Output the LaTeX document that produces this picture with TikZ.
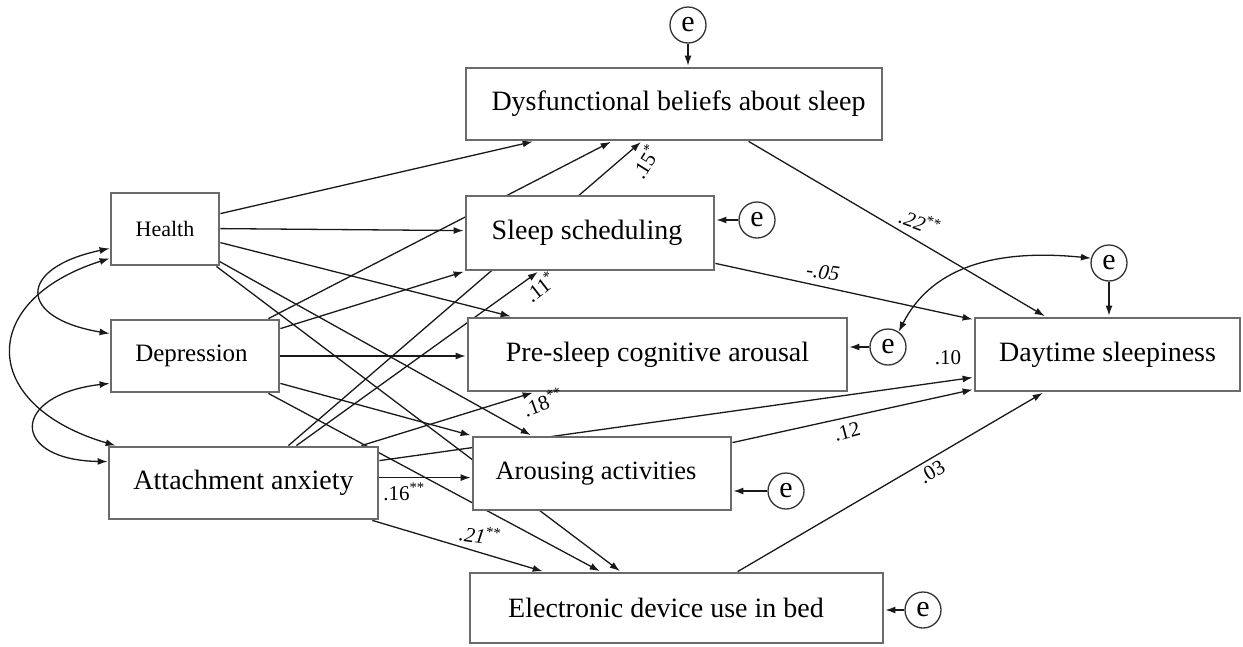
\documentclass[tikz,border=0pt]{standalone}
\usepackage{fontspec}
\setmainfont{Liberation Serif}
\usetikzlibrary{arrows.meta}
\pgfdeclarelayer{bg}
\pgfsetlayers{bg,main}
\begin{document}
\begin{tikzpicture}[x=1pt,y=-1pt,
  box/.style={draw=black!58, line width=2.8pt, fill=white, inner sep=0pt, font=\fontsize{28}{30}\selectfont},
  err/.style={circle, draw=black!80, line width=1.3pt, fill=white, minimum size=36pt, inner sep=0pt, font=\fontsize{30}{30}\selectfont},
  arr/.style={draw=black!90, line width=1.3pt, shorten >=1pt, -{Latex[length=10pt,width=7pt]}},
  cov/.style={draw=black!90, line width=1.3pt, {Latex[length=10pt,width=7pt]}-{Latex[length=10pt,width=7pt]}},
  coef/.style={font=\fontsize{21}{22}\selectfont, inner sep=0pt},
]
\useasboundingbox (0,0) rectangle (1243,646);

% boxes
\node[box, minimum width=108pt, minimum height=72pt, font=\fontsize{22}{24}\selectfont] (health) at (165,229) {Health};
\node[box, minimum width=168pt, minimum height=72pt, font=\fontsize{25}{27}\selectfont] (dep) at (195,356) {\hspace*{-7pt}Depression};
\node[box, minimum width=269pt, minimum height=72pt] (att) at (243.5,483) {Attachment anxiety};
\node[box, minimum width=416pt, minimum height=72pt] (dys) at (674,104) {\hspace*{9pt}Dysfunctional beliefs about sleep};
\node[box, minimum width=248pt, minimum height=74pt] (ss) at (590,233) {\hspace*{-6pt}Sleep scheduling};
\node[box, minimum width=379pt, minimum height=73pt] (pre) at (657.5,354.5) {Pre-sleep cognitive arousal};
\node[box, minimum width=258pt, minimum height=73pt, font=\fontsize{26.5}{28}\selectfont] (aro) at (602,473.5) {\hspace*{-12pt}Arousing activities};
\node[box, minimum width=413pt, minimum height=70pt] (ele) at (676.5,608) {\hspace*{-21pt}Electronic device use in bed};
\node[box, minimum width=265pt, minimum height=73pt] (day) at (1107.5,354.5) {Daytime sleepiness};

% error terms
\node[err] (e1) at (688,25) {e};
\node[err] (e2) at (757,220) {e};
\node[err] (e3) at (888,347) {e};
\node[err] (e4) at (1109,263) {e};
\node[err] (e5) at (786,491) {e};
\node[err] (e6) at (923,610) {e};

\begin{pgfonlayer}{bg}
% Health
\draw[arr] ([yshift=-22pt]health.north east) -- ([xshift=69pt]dys.south west);
\draw[arr] ([yshift=-37pt]health.north east) -- ([yshift=-36pt]ss.north west);
\draw[arr] ([yshift=-51pt]health.north east) -- ([xshift=45pt]pre.north west);
\draw[arr] ([xshift=-1pt,yshift=5pt]health.south east) -- ([xshift=60pt]aro.north west);
\draw[arr] ([xshift=-4pt]health.south east) -- ([xshift=152pt]ele.north west);
% Depression
\draw[arr] ([xshift=-12pt]dep.north east) -- ([xshift=147pt]dys.south west);
\draw[arr] ([yshift=-10pt]dep.north east) -- (ss.south west);
\draw[arr] (dep.east) -- (dep.east -| pre.west);
\draw[arr] ([yshift=10pt]dep.south east) -- (aro.north west);
\draw[arr] ([xshift=-12pt]dep.south east) -- ([xshift=132pt]ele.north west);
% Attachment anxiety
\draw[arr] ([xshift=-91pt]att.north east) -- ([xshift=177pt]dys.south west);
\draw[arr] ([xshift=-83pt]att.north east) -- ([xshift=74pt]ss.south west);
\draw[arr] ([xshift=-18pt]att.north east) -- ([xshift=67pt]pre.south west);
\draw[arr] ([yshift=-15pt]att.north east) -- ([yshift=15pt]day.south west);
\draw[arr] ([yshift=-32pt]att.north east) -- ([yshift=-42pt]aro.north west);
\draw[arr] ([xshift=-7pt]att.south east) -- ([xshift=75pt]ele.north west);
% to Daytime sleepiness
\draw[arr] ([xshift=284pt]dys.south west) -- ([xshift=72pt]day.north west);
\draw[arr] ([yshift=8pt]ss.south east) -- ([yshift=-3pt]day.north west);
\draw[arr] ([yshift=-7pt]aro.north east) -- ([yshift=3pt]day.south west);
\draw[arr] ([xshift=269pt]ele.north west) -- ([xshift=70pt]day.south west);
% error arrows
\draw[arr] (e1) -- (e1 |- dys.north);
\draw[arr] (e2) -- (e2 -| ss.east);
\draw[arr] (e3) -- (e3 -| pre.east);
\draw[arr] (e4) -- (e4 |- day.north);
\draw[arr] (e5) -- (e5 -| aro.east);
\draw[arr] (e6) -- (e6 -| ele.east);
% covariances
\draw[cov] ([yshift=18pt]health.south west) .. controls (17,268) and (17,318) .. ([yshift=-15pt]dep.north west);
\draw[cov] ([yshift=8pt]health.south west) .. controls (-22,300) and (-22,405) .. ([xshift=8pt]att.north west);
\draw[cov] ([yshift=10pt]dep.south west) .. controls (10,395) and (10,460) .. ([yshift=-16pt]att.north west);
\draw[cov] (e3.55) .. controls (930,270) and (990,248) .. (e4.165);
\end{pgfonlayer}

% coefficients
\node[coef, rotate=58] (l15) at (645,162) {.15\textsuperscript{*}};
\node[coef, rotate=38] (l11) at (540,287) {.11\textsuperscript{*}};
\node[coef, rotate=20] (l18) at (543,402) {.18\textsuperscript{**}};
\node[coef] (l16) at (404,492) {.16\textsuperscript{**}};
\node[coef, rotate=-8] (l21) at (480,535) {\textit{.21}\textsuperscript{**}};
\node[coef, rotate=-20] (l22) at (920,222) {\textit{.22}\textsuperscript{**}};
\node[coef, rotate=-8] (l05) at (823,272) {\textit{-.05}};
\node[coef] (l10) at (948,358) {.10};
\node[coef, rotate=15] (l12) at (847,432) {.12};
\node[coef, rotate=30] (l03) at (932,472) {.03};
\end{tikzpicture}
\end{document}
